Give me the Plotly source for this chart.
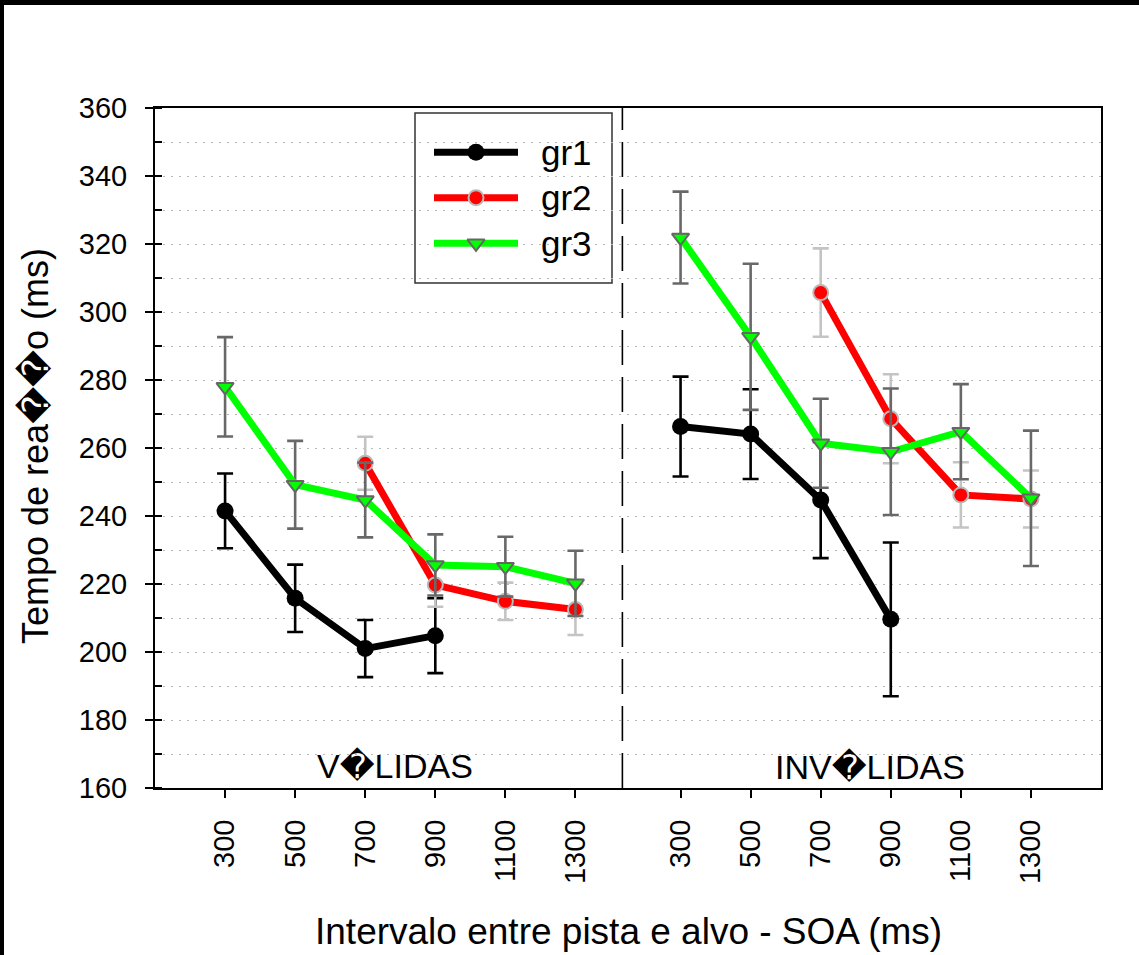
import plotly.graph_objects as go

# ---------------- data ----------------
soa_labels = ["300", "500", "700", "900", "1100", "1300"]
groups = ["gr1", "gr2", "gr3"]

# VÁLIDAS (valid cue)
gr1_valid = [241.5, 215.8, 201.0, 204.8, None, None]
gr1_valid_err = [11.0, 9.9, 8.4, 11.0, None, None]
gr2_valid = [None, None, 255.5, 219.7, 214.9, 212.5]
gr2_valid_err = [None, None, 7.8, 6.4, 5.5, 7.5]
gr3_valid = [278.0, 249.2, 244.7, 225.6, 225.1, 220.2]
gr3_valid_err = [14.6, 12.9, 11.0, 9.0, 8.8, 9.6]

# INVÁLIDAS (invalid cue)
gr1_invalid = [266.3, 264.1, 244.7, 209.6, None, None]
gr1_invalid_err = [14.7, 13.2, 17.1, 22.6, None, None]
gr2_invalid = [None, None, 305.7, 268.6, 246.2, 245.0]
gr2_invalid_err = [None, None, 13.0, 13.1, 9.6, 8.4]
gr3_invalid = [321.9, 292.7, 261.4, 258.9, 264.8, 245.2]
gr3_invalid_err = [13.5, 21.5, 13.1, 18.6, 14.0, 19.9]

panel_labels = ["V\ufffdLIDAS", "INV\ufffdLIDAS"]
y_title = "Tempo de rea\ufffd\ufffdo (ms)"
x_title = "Intervalo entre pista e alvo - SOA (ms)"

# ---------------- layout helpers ----------------
FONT = "Liberation Sans, Arial, DejaVu Sans, sans-serif"
W, H = 1139, 955
L, T, R, B = 155, 108, 38, 167
PW, PH = W - L - R, H - T - B

def px_x(p):
    return (p - L) / PW

def px_y(p):
    return (H - B - p) / PH

GAP = 6.5  # offset of the second panel in category units
valid_pos = list(range(len(soa_labels)))
invalid_pos = [i + GAP for i in valid_pos]
all_pos = valid_pos + invalid_pos

styles = {
    "gr1": dict(color="black", symbol="circle", size=17, mline="black", mlw=0,
                ecolor="black"),
    "gr2": dict(color="#ff0000", symbol="circle", size=15, mline="#b9b9b9", mlw=2,
                ecolor="#c4c4c4"),
    "gr3": dict(color="#00ff00", symbol="triangle-down", size=15, mline="#666666", mlw=2,
                ecolor="#686868"),
}
series = {
    "gr1": (gr1_valid, gr1_valid_err, gr1_invalid, gr1_invalid_err),
    "gr2": (gr2_valid, gr2_valid_err, gr2_invalid, gr2_invalid_err),
    "gr3": (gr3_valid, gr3_valid_err, gr3_invalid, gr3_invalid_err),
}

fig = go.Figure()
for g in groups:
    v, ve, iv, ie = series[g]
    s = styles[g]
    fig.add_trace(go.Scatter(
        x=valid_pos + [None] + invalid_pos,
        y=v + [None] + iv,
        error_y=dict(type="data", array=ve + [None] + ie, visible=True,
                     color=s["ecolor"], thickness=2.6, width=8),
        mode="lines+markers",
        line=dict(color=s["color"], width=7),
        marker=dict(symbol=s["symbol"], size=s["size"], color=s["color"],
                    line=dict(color=s["mline"], width=s["mlw"])),
        connectgaps=False, showlegend=False, name=g,
    ))

# custom legend on an overlay axis (paper-like 0..1 range)
leg_rows = [px_y(152.3), px_y(197.7), px_y(243.3)]
lx0, lx1 = px_x(434), px_x(518)
lxm = (lx0 + lx1) / 2
for g, ry in zip(groups, leg_rows):
    s = styles[g]
    fig.add_trace(go.Scatter(x=[lx0, lx1], y=[ry, ry], mode="lines",
                             line=dict(color=s["color"], width=7),
                             xaxis="x2", yaxis="y2", showlegend=False, hoverinfo="skip"))
    fig.add_trace(go.Scatter(x=[lxm], y=[ry], mode="markers",
                             marker=dict(symbol=s["symbol"], size=s["size"], color=s["color"],
                                         line=dict(color=s["mline"], width=s["mlw"])),
                             xaxis="x2", yaxis="y2", showlegend=False, hoverinfo="skip"))

annotations = []
for g, ry in zip(groups, leg_rows):
    annotations.append(dict(x=px_x(539), y=ry, xref="paper", yref="paper", text=g,
                            showarrow=False, xanchor="left", yanchor="middle",
                            font=dict(family=FONT, size=35, color="black")))

# panel labels
annotations.append(dict(x=px_x(395), y=px_y(766), xref="paper", yref="paper",
                        text=panel_labels[0], showarrow=False, xanchor="center",
                        yanchor="middle", font=dict(family=FONT, size=34, color="black")))
annotations.append(dict(x=px_x(870), y=px_y(767), xref="paper", yref="paper",
                        text=panel_labels[1], showarrow=False, xanchor="center",
                        yanchor="middle", font=dict(family=FONT, size=34, color="black")))
# axis titles
annotations.append(dict(x=px_x(628), y=px_y(931), xref="paper", yref="paper",
                        text=x_title, showarrow=False, xanchor="center", yanchor="middle",
                        font=dict(family=FONT, size=37, color="black")))
annotations.append(dict(x=px_x(35), y=px_y(446), xref="paper", yref="paper",
                        text=y_title, showarrow=False, xanchor="center", yanchor="middle",
                        textangle=-90, font=dict(family=FONT, size=36, color="black")))

shapes = [
    # legend box
    dict(type="rect", xref="paper", yref="paper", x0=px_x(415), x1=px_x(612),
         y0=px_y(283), y1=px_y(113), fillcolor="white",
         line=dict(color="#333333", width=1.5), layer="between"),
    # panel divider
    dict(type="line", xref="x", yref="paper", x0=5.67, x1=5.67, y0=0, y1=1,
         line=dict(color="black", width=1.6, dash="35px,12px")),
    # black edges of the picture
    dict(type="rect", xref="paper", yref="paper", x0=px_x(-5), x1=px_x(W + 5),
         y0=px_y(5), y1=px_y(-5), fillcolor="black", line=dict(width=0), layer="above"),
    dict(type="rect", xref="paper", yref="paper", x0=px_x(-5), x1=px_x(4),
         y0=px_y(H + 5), y1=px_y(-5), fillcolor="black", line=dict(width=0), layer="above"),
]

fig.update_layout(
    width=W, height=H,
    margin=dict(l=L, r=R, t=T, b=B, pad=0),
    paper_bgcolor="white", plot_bgcolor="white",
    font=dict(family=FONT, color="black"),
    showlegend=False,
    annotations=annotations,
    shapes=shapes,
    xaxis=dict(
        range=[-1, len(soa_labels) - 1 + GAP + 1],
        tickmode="array", tickvals=all_pos, ticktext=soa_labels + soa_labels,
        tickangle=-90, ticks="outside", ticklen=8, tickwidth=2, tickcolor="black",
        tickfont=dict(family=FONT, size=29, color="black"), ticklabelstandoff=10,
        showline=True, linecolor="black", linewidth=2, mirror=True,
        showgrid=False, zeroline=False,
    ),
    yaxis=dict(
        range=[160, 360], tickmode="linear", tick0=160, dtick=20,
        ticks="outside", ticklen=8, tickwidth=2, tickcolor="black",
        tickfont=dict(family=FONT, size=29, color="black"), ticklabelstandoff=12,
        showline=True, linecolor="black", linewidth=2, mirror=True,
        showgrid=True, gridcolor="#b8b8b8", gridwidth=1, griddash="2px,6px",
        minor=dict(dtick=10, ticks="inside", ticklen=7, tickwidth=2, tickcolor="black",
                   showgrid=True, gridcolor="#b8b8b8", gridwidth=1, griddash="2px,6px"),
        zeroline=False,
    ),
    xaxis2=dict(overlaying="x", anchor="y2", range=[0, 1], visible=False, showgrid=False),
    yaxis2=dict(overlaying="y", anchor="x2", range=[0, 1], visible=False, showgrid=False),
)

fig.write_html("out.html")
